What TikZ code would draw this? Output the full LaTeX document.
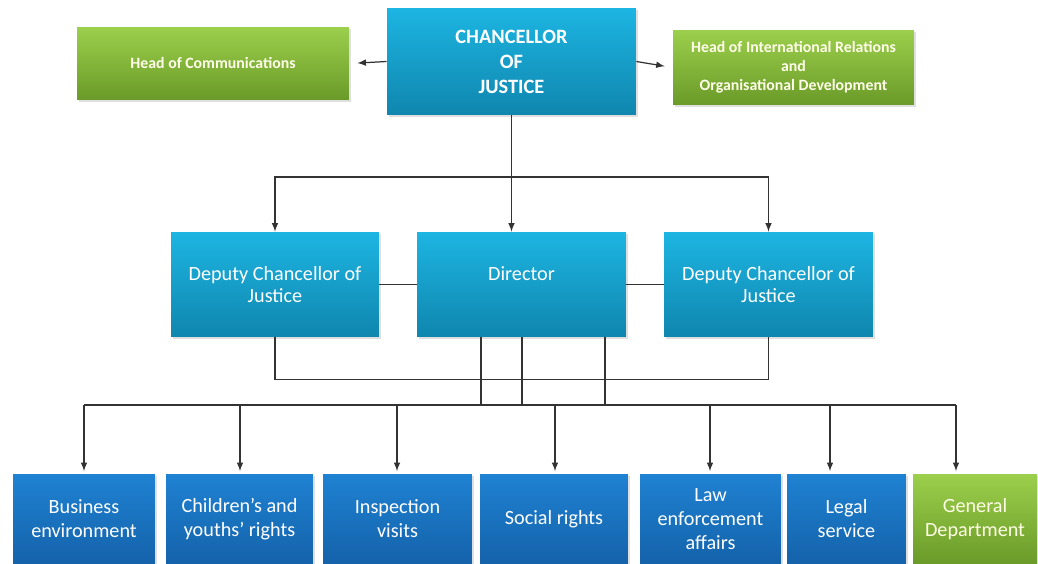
\documentclass[tikz,border=0pt]{standalone}
\usepackage{fontspec}
\setmainfont{Carlito}
\usetikzlibrary{calc,shadows}
\definecolor{cyantop}{HTML}{1DB5E2}
\definecolor{cyanbot}{HTML}{0F86AE}
\definecolor{bluetop}{HTML}{1F82D2}
\definecolor{bluebot}{HTML}{1462AA}
\definecolor{greentop}{HTML}{9CCF4C}
\definecolor{greenbot}{HTML}{6A9A28}
\definecolor{wire}{HTML}{333333}
\tikzset{
	box/.style = {align=center, inner sep=2pt, text=white, drop shadow={opacity=0.25, shadow xshift=1pt, shadow yshift=-1pt}},
	chief/.style = {box, top color=cyantop, bottom color=cyanbot, font=\bfseries\fontsize{11.6}{14.2}\selectfont},
	deputy/.style = {box, top color=cyantop, bottom color=cyanbot, font=\fontsize{11.5}{13}\selectfont, minimum height=2.1cm},
	staff/.style = {box, top color=greentop, bottom color=greenbot, text=white!92!yellow, font=\bfseries\fontsize{9}{10.8}\selectfont},
	unit/.style = {box, top color=bluetop, bottom color=bluebot, font=\fontsize{11.5}{13.6}\selectfont, minimum height=1.8cm},
	general/.style = {unit, top color=greentop, bottom color=greenbot, text=white!90!yellow},
	wire/.style = {draw=wire, line width=0.7pt, >=latex}
}

\begin{document}
\begin{tikzpicture}[x=0.02cm, y=-0.02cm]
		\useasboundingbox (0,0) rectangle (1038,564);
		\node [chief, minimum width=4.98cm, minimum height=2.14cm] (chancellor) at (511.5,61.5) {CHANCELLOR\\OF\\JUSTICE};
		\node [staff, minimum width=5.44cm, minimum height=1.46cm] (comms) at (213,63.5) {Head of Communications};
		\node [staff, minimum width=4.82cm, minimum height=1.5cm] (intl) at (793.5,67.5) {Head of International Relations\\and\\Organisational Development};

		\node [deputy, minimum width=4.16cm] (depL) at (275,284.5) {Deputy Chancellor of\\Justice};
		\node [deputy, minimum width=4.18cm] (director) at (521.5,284.5) {Director\\~};
		\node [deputy, minimum width=4.18cm] (depR) at (768.5,284.5) {Deputy Chancellor of\\Justice};

		\node [unit, minimum width=2.84cm] (u1) at (84,519) {Business\\environment};
		\node [unit, minimum width=2.94cm] (u2) at (239.5,519) {Children’s and\\youths’ rights};
		\node [unit, minimum width=2.98cm] (u3) at (397.5,519) {Inspection\\visits};
		\node [unit, minimum width=2.96cm] (u4) at (554,519) {Social rights};
		\node [unit, minimum width=2.82cm] (u5) at (710.5,519) {Law\\enforcement\\affairs};
		\node [unit, minimum width=2.38cm] (u6) at (846.5,519) {Legal\\service};
		\node [general, minimum width=2.48cm] (u7) at (975,519) {General\\Department};

		\coordinate (split) at (511.5,177);
		\coordinate (dropA) at (481,405);
		\coordinate (dropB) at (522,405);
		\coordinate (dropC) at (605,405);
		\coordinate (busL) at (84,405);
		\coordinate (busR) at (956,405);

		\draw [wire, ->, shorten >=0.16cm] (chancellor.west) -- (comms.east);
		\draw [wire, ->, shorten >=0.16cm] (chancellor.east) -- (intl.west);
		\draw [wire] (chancellor.south) -- (split);
		\draw [wire, ->] (split) -| (depL.north);
		\draw [wire, ->] (split) -| (depR.north);
		\draw [wire, ->] (split) -- (split |- director.north);
		\draw [wire] (depL) -- (director);
		\draw [wire] (director) -- (depR);
		\draw [wire] (depL.south) -- ++(0,42) -| (depR.south);
		\draw [wire] (dropA |- director.south) -- (dropA) -- (dropB) -- (dropB |- director.south);
		\draw [wire] (dropC |- director.south) -- (dropC);
		\draw [wire] (busL) -- (busR);
		\foreach \n/\dx in {u1/0, u2/0.5, u3/-0.5, u4/1, u5/-0.5, u6/-16.5, u7/-19}
			\draw [wire, <-, shorten <=0.05cm] ($(\n.north)+(\dx,0)$) -- ++(0,-69);
\end{tikzpicture}
\end{document}
